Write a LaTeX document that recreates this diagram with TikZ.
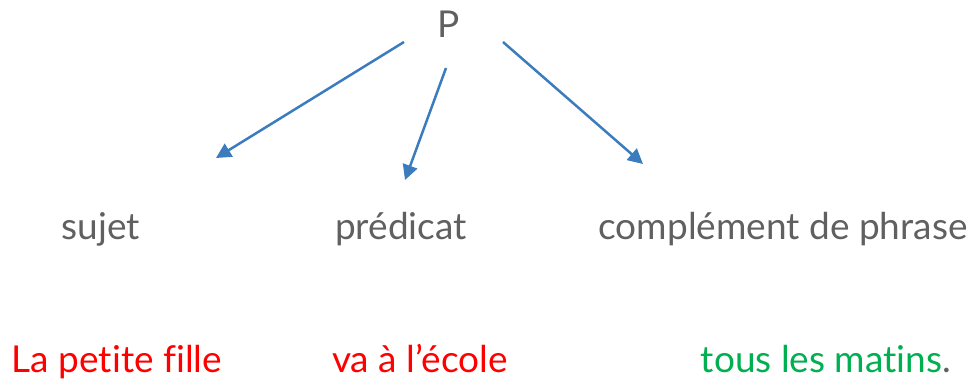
\documentclass[tikz,border=0pt]{standalone}
\usepackage{fontspec}
\setmainfont{Lato}[Ligatures=NoCommon]
\usetikzlibrary{arrows.meta}
\definecolor{txtgray}{HTML}{606060}
\definecolor{arrblue}{HTML}{3B7CBF}
\definecolor{myred}{HTML}{FF0000}
\definecolor{mygreen}{HTML}{00B050}
\begin{document}
\begin{tikzpicture}[x=1pt,y=-1pt,
  lbl/.style={font=\fontsize{37}{44}\selectfont, text=txtgray, anchor=base, inner sep=0pt},
  ex/.style={font=\fontsize{37}{44}\selectfont, anchor=base, inner sep=0pt},
  arr/.style={draw=arrblue, line width=2.5pt, -{Triangle[length=15pt,width=15pt]}}]
\useasboundingbox (0,0) rectangle (976,379);
\node[lbl, font=\fontsize{37}{44}\selectfont] (P) at (449,38) {P};
\node[lbl] (suj) at (101,240) {sujet};
\node[lbl] (pred) at (401,240) {prédicat};
\node[lbl] (comp) at (783,240) {complément de phrase};
\node[ex, text=myred] (ex1) at (117,372) {La petite fille};
\node[ex, text=myred] (ex2) at (420,372) {va à l’école};
\node[ex] (ex3) at (826,372) {\textcolor{mygreen}{tous les matins}\textcolor{txtgray}{.}};
\coordinate (a1s) at (404,42); \coordinate (a1e) at (216,158);
\coordinate (a2s) at (446,68); \coordinate (a2e) at (405,180);
\coordinate (a3s) at (503,42); \coordinate (a3e) at (643,164);
\draw[arr] (a1s) -- (a1e);
\draw[arr] (a2s) -- (a2e);
\draw[arr] (a3s) -- (a3e);
\end{tikzpicture}
\end{document}
